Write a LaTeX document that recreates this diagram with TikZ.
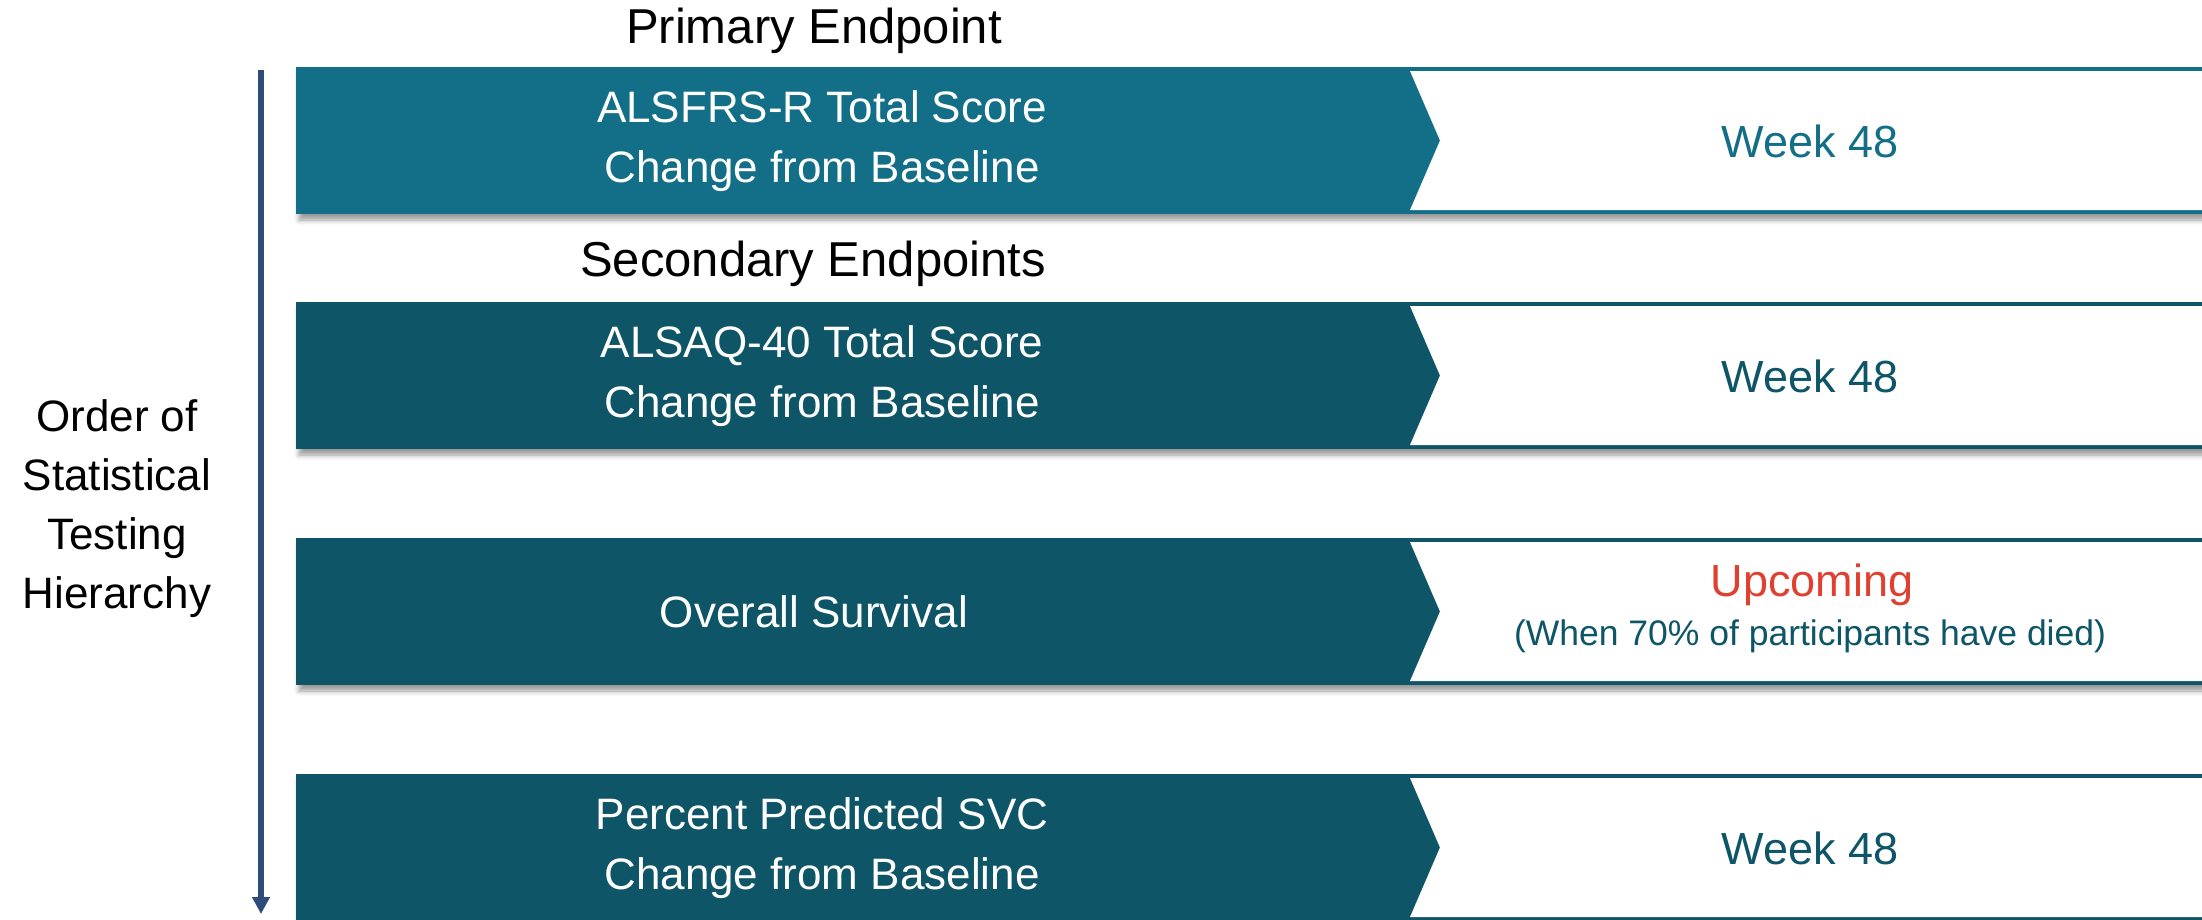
\documentclass[tikz,border=0pt]{standalone}
\usepackage{fontspec}
\setmainfont{Liberation Sans}
\usetikzlibrary{arrows.meta,shadows.blur}

\definecolor{tealA}{HTML}{136F87}
\definecolor{tealB}{HTML}{0D5567}
\definecolor{upred}{HTML}{E0402F}
\definecolor{arrowblue}{HTML}{2F4B7C}

\begin{document}
\begin{tikzpicture}[x=1pt,y=-1pt,>={Triangle[width=17pt,length=17pt]}]
\useasboundingbox (0,0) rectangle (2202,919);

\def\xl{296}   % левый край полос
\def\xm{1410}  % начало белой части
\def\xt{1440}  % острие шеврона
\def\xr{2215}
\def\hh{147}   % высота полосы

\tikzset{
  bartext/.style={text=white,align=center,font=\fontsize{44}{60}\selectfont},
  weektext/.style={align=center,font=\fontsize{45}{51}\selectfont},
  headtext/.style={font=\fontsize{49}{60}\selectfont},
}

%=== Полосы с шевронами ===
\foreach \yt/\col in {67/tealA,302/tealB,538/tealB,774/tealB}{
  \pgfmathsetmacro{\yb}{\yt+\hh}
  \pgfmathsetmacro{\ym}{\yt+\hh/2}
  \fill[\col,blur shadow={shadow xshift=3pt,shadow yshift=-6pt,shadow blur radius=5pt}]
    (\xl,\yt) rectangle (\xr,\yb);
  \fill[white] (\xm,\yt+4) -- (\xr,\yt+4) -- (\xr,\yb-4)
    -- (\xm,\yb-4) -- (\xt,\ym) -- cycle;
}

%=== Заголовки ===
\node[headtext] (prim) at (814,31) {Primary Endpoint};
\node[headtext] (sec)  at (813,264) {Secondary Endpoints};

%=== Тексты в полосах ===
\node[bartext] (alsfrs) at (822,141) {ALSFRS-R Total Score\\Change from Baseline};
\node[bartext] (alsaq)  at (822,376) {ALSAQ-40 Total Score\\Change from Baseline};
\node[bartext] (os)     at (814,612) {Overall Survival};
\node[bartext] (svc)    at (822,848) {Percent Predicted SVC\\Change from Baseline};

\node[weektext,text=tealA] (wk1) at (1810,141) {Week 48};
\node[weektext,text=tealB] (wk2) at (1810,376) {Week 48};
\node[weektext,text=tealB] (wk4) at (1810,848) {Week 48};

\node[weektext,text=upred] (upc) at (1812,585) {Upcoming};
\node[text=tealB,font=\fontsize{35.5}{40}\selectfont] (died) at (1810,636)
  {(When 70\% of participants have died)};

%=== Стрелка иерархии ===
\coordinate (atop) at (261,70);
\coordinate (abot) at (261,914);
\draw[->,arrowblue,line width=6pt] (atop) -- (abot);

\node[align=center,font=\fontsize{44}{59}\selectfont] (order) at (117,509)
  {Order of\\Statistical\\Testing\\Hierarchy};

\end{tikzpicture}
\end{document}
